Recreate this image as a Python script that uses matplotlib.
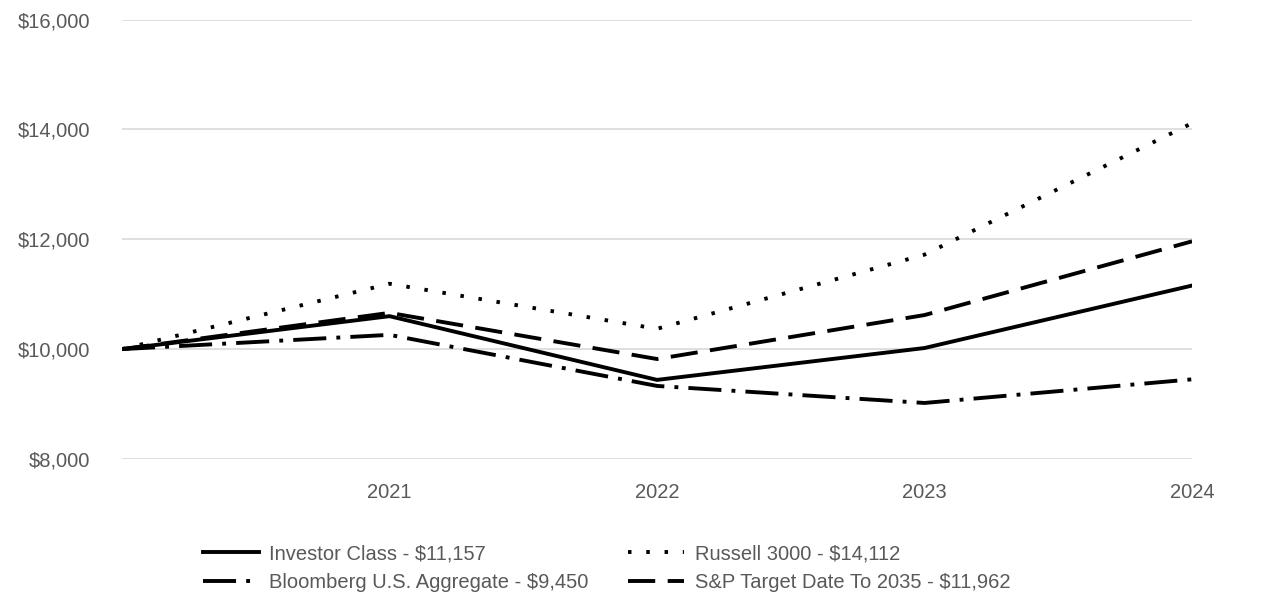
import matplotlib
matplotlib.use("Agg")
import matplotlib.pyplot as plt

years = ["", "2021", "2022", "2023", "2024"]
investor = [10000, 10600, 9440, 10020, 11157]
russell = [10000, 11190, 10370, 11720, 14112]
bloomberg = [10000, 10260, 9330, 9020, 9450]
sp_target = [10000, 10660, 9820, 10620, 11962]
labels = ["Investor Class - $11,157", "Russell 3000 - $14,112",
          "Bloomberg U.S. Aggregate - $9,450", "S&P Target Date To 2035 - $11,962"]
yticks = [8000, 10000, 12000, 14000, 16000]

plt.rcParams['font.family'] = ["Liberation Sans", 'DejaVu Sans']

fig = plt.figure(figsize=(12.86, 6.14), dpi=100)
ax = fig.add_axes([122/1286, 1-459/614, (1192-122)/1286, (459-19.5)/614])

x = list(range(len(years)))
lw = 2.8
l1, = ax.plot(x, investor, color="black", lw=lw, solid_joinstyle="miter")
l2, = ax.plot(x, russell, color="black", lw=lw, linestyle=(0, (0.9, 3.8)))
l3, = ax.plot(x, bloomberg, color="black", lw=lw, linestyle=(0, (8.5, 2.6, 1.0, 2.6)))
l4, = ax.plot(x, sp_target, color="black", lw=lw, linestyle=(0, (7, 3.2)))

ax.set_xlim(0, 4)
ax.set_ylim(8000, 16000)
ax.set_yticks(yticks)
ax.set_yticklabels([f"${v:,}" for v in yticks])
ax.set_xticks(x)
ax.set_xticklabels(years)
ax.grid(axis="y", color="#d9d9d9", lw=1.2)
ax.set_axisbelow(True)
for s in ax.spines.values():
    s.set_visible(False)
ax.tick_params(axis="both", length=0, labelsize=14.5, labelcolor="#595959")
ax.tick_params(axis="y", pad=23)
ax.tick_params(axis="x", pad=17)

leg = fig.legend([l1, l3, l2, l4], [labels[0], labels[2], labels[1], labels[3]],
                 ncol=2, loc="upper left", bbox_to_anchor=(203/1286, 1-544/614),
                 frameon=False, fontsize=14.5, handlelength=2.8, handletextpad=0.5,
                 columnspacing=1.95, labelspacing=0.5, borderaxespad=0, borderpad=0)
for t in leg.get_texts():
    t.set_color("#595959")

fig.savefig("out.png", dpi=100)
